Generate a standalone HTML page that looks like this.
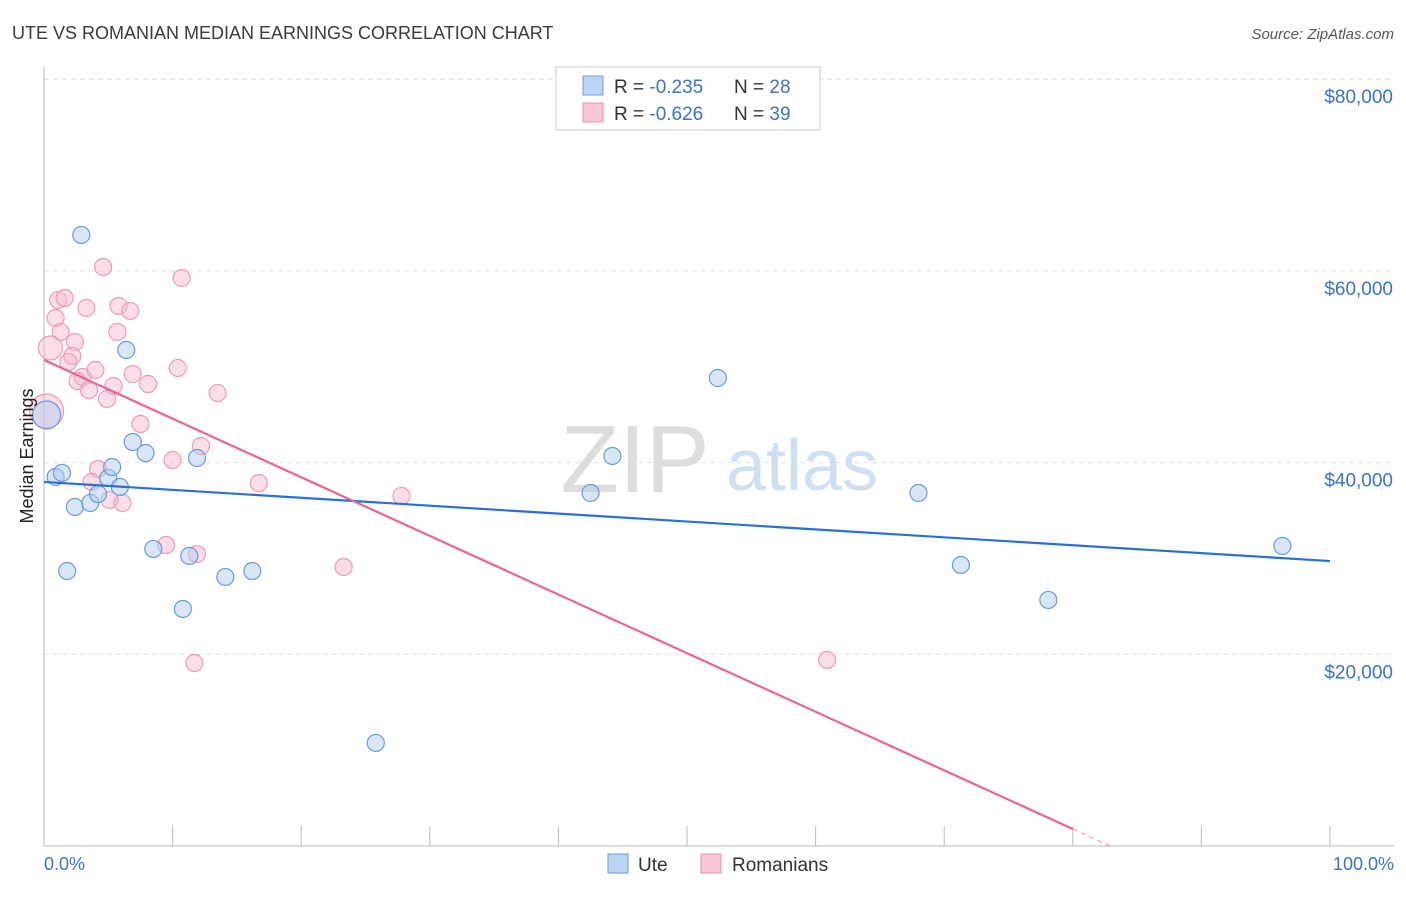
<!DOCTYPE html>
<html><head><meta charset="utf-8"><style>
body{margin:0;background:#fff;font-family:"Liberation Sans",sans-serif;}
svg text{font-family:"Liberation Sans",sans-serif;}
</style></head><body>
<svg id="chart" width="1406" height="892">
<text x="12" y="39" font-size="18" fill="#3a3a3a">UTE VS ROMANIAN MEDIAN EARNINGS CORRELATION CHART</text>
<text x="1394" y="39" font-size="15" fill="#555" text-anchor="end" font-style="italic">Source: ZipAtlas.com</text>
<g id="grid"></g>
<text x="635" y="492" font-size="96" fill="#ddd" font-family="Liberation Serif" text-anchor="middle">ZIP</text>
<text x="802" y="490" font-size="72" fill="#cfe0f3" text-anchor="middle">atlas</text>
<g id="pts"></g>
<g id="lines"></g>
<text x="33" y="456" font-size="18" fill="#222" text-anchor="middle" transform="rotate(-90 33 456)">Median Earnings</text>
<text x="44" y="870" font-size="18" fill="#3b73c9">0.0%</text>
<text x="1394" y="870" font-size="18" fill="#3b73c9" text-anchor="end">100.0%</text>
<g>
<rect x="556" y="67" width="264" height="63" fill="#fff" stroke="#ccc"/>
<rect x="583" y="76" width="20" height="19" fill="#bcd4f4" stroke="#6e9be0"/>
<rect x="583" y="103" width="20" height="19" fill="#f8c8d6" stroke="#e891ad"/>
<text x="614" y="93" font-size="19" fill="#333">R = <tspan fill="#3b73c9">-0.235</tspan></text>
<text x="734" y="93" font-size="19" fill="#333">N = <tspan fill="#3b73c9">28</tspan></text>
<text x="614" y="120" font-size="19" fill="#333">R = <tspan fill="#3b73c9">-0.626</tspan></text>
<text x="734" y="120" font-size="19" fill="#333">N = <tspan fill="#3b73c9">39</tspan></text>
</g>
<g>
<rect x="608" y="854" width="20" height="19" fill="#bcd4f4" stroke="#6e9be0"/>
<text x="638" y="871" font-size="19" fill="#333">Ute</text>
<rect x="701" y="854" width="20" height="19" fill="#f8c8d6" stroke="#e891ad"/>
<text x="732" y="871" font-size="19" fill="#333">Romanians</text>
</g>
</svg>
<script>
const yTicks=[20000,40000,60000,80000];
const yTickLabels=["$20,000","$40,000","$60,000","$80,000"];
const xTicks=[0,10,20,30,40,50,60,70,80,90,100];
const uteX=[2.9,6.4,0.2,0.9,1.4,2.4,3.6,4.2,5.0,5.3,5.9,6.9,7.9,11.9,8.5,1.8,11.3,10.8,14.1,16.2,25.8,42.5,44.2,52.4,68.0,71.3,78.1,96.3];
const uteY=[63750,51750,44970,38500,38920,35370,35790,36720,38390,39540,37460,42150,41000,40480,30990,28690,30260,24730,28070,28690,10750,36830,40690,48830,36830,29320,25670,31300];
const romX=[4.6,10.7,1.1,1.6,3.3,5.8,6.7,0.9,1.3,5.7,2.4,0.5,2.2,1.9,4.0,6.9,10.4,3.0,2.6,5.4,3.5,8.1,4.9,13.5,0.2,7.5,12.2,10.0,4.2,3.7,16.7,5.1,6.1,27.8,9.5,11.9,23.3,11.7,60.9];
const romY=[60410,59260,56960,57170,56130,56340,55820,55090,53630,53630,52580,51960,51120,50500,49660,49240,49870,48930,48510,47990,47570,48200,46640,47260,45380,44030,41730,40270,39330,37980,37870,36100,35790,36520,31400,30460,29110,19090,19410];
const uteTrend=[37980,29730];
const romTrend=[50700,-611.6];
const NS="http://www.w3.org/2000/svg";
const X=v=>44+v*12.86, Y=v=>846-v/104.33;
function mk(t,a,p){const e=document.createElementNS(NS,t);for(const k in a)e.setAttribute(k,a[k]);p.appendChild(e);return e;}
const g=document.getElementById('grid');
yTicks.forEach((t,i)=>{
 const l=mk('line',{x1:44,x2:1394,y1:Y(t),y2:Y(t),stroke:'#e2e2e2','stroke-dasharray':'5,4'},g);
 
 
 const tx=mk('text',{x:1393,y:Y(t)+24,'font-size':19,fill:'#3b73c9','text-anchor':'end'},g);
 tx.textContent=yTickLabels[i];
 
 
});
const topGrid=mk('line',{x1:44,x2:1394,y1:79,y2:79,stroke:'#e2e2e2','stroke-dasharray':'5,4'},g);


mk('line',{x1:44,x2:44,y1:66,y2:846,stroke:'#bbb'},g);
mk('line',{x1:44,x2:1394,y1:846,y2:846,stroke:'#bbb'},g);
xTicks.forEach(t=>{
 const l=mk('line',{x1:X(t),x2:X(t),y1:826,y2:846,stroke:'#bbb'},g);
 
 
});
const p=document.getElementById('pts');
function rad(i,isU){if(isU&&i===2)return 14;if(!isU&&i===24)return 17;if(!isU&&i===11)return 12;return 8.5;}
romX.forEach((x,i)=>{
 const c=mk('circle',{cx:X(x),cy:Y(romY[i]),r:rad(i,false),fill:'rgba(246,182,202,0.45)',stroke:'#eb9bb6','stroke-width':1.2},p);
 
 
});
uteX.forEach((x,i)=>{
 const c=mk('circle',{cx:X(x),cy:Y(uteY[i]),r:rad(i,true),fill:'rgba(178,206,242,0.5)',stroke:'#6a9ae0','stroke-width':1.2},p);
 
 
});
const L=document.getElementById('lines');
const ul=mk('line',{x1:X(0),y1:Y(uteTrend[0]),x2:X(100),y2:Y(uteTrend[1]),stroke:'#2a6fd6','stroke-width':2.2},L);


const zx=-romTrend[0]/romTrend[1];
const rl=mk('line',{x1:X(0),y1:Y(romTrend[0]),x2:X(80),y2:Y(romTrend[0]+romTrend[1]*80),stroke:'#e8668f','stroke-width':2.2},L);


const rd=mk('line',{x1:X(80),y1:Y(romTrend[0]+romTrend[1]*80),x2:X(zx),y2:Y(0),stroke:'#e8a0b8','stroke-width':1.2,'stroke-dasharray':'5,4'},L);


</script>
</body></html>
